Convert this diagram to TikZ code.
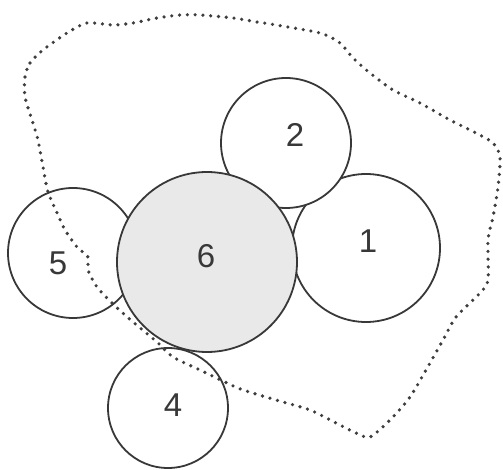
\documentclass[tikz,border=0pt]{standalone}
\usepackage{fontspec}
\setmainfont{Liberation Sans}
\definecolor{edge}{HTML}{383838}
\definecolor{dotc}{HTML}{3E3E3E}
\definecolor{fillg}{HTML}{E9E9E9}
\begin{document}
\begin{tikzpicture}[x=1pt,y=-1pt,
  disc/.style={circle,draw=edge,line width=1.8pt,fill=white,inner sep=0pt},
  lbl/.style={font=\fontsize{33}{33}\selectfont,text=edge,inner sep=0pt},
  boundary/.style={dotc,line width=3.6pt,line cap=round,dash pattern=on 0pt off 7.8pt}]
\useasboundingbox (0,0) rectangle (503,470);
\node[disc,minimum size=148pt] (c1) at (366,248) {};
\node[disc,minimum size=130pt] (c2) at (286,143) {};
\node[disc,minimum size=130pt] (c5) at (73,253) {};
\node[disc,minimum size=120pt] (c4) at (168,408) {};
\node[disc,fill=fillg,minimum size=180pt] (c6) at (207,262) {};
\node[lbl] (l1) at (368,241) {1};
\node[lbl] (l2) at (295,135) {2};
\node[lbl] (l4) at (173,405) {4};
\node[lbl] (l5) at (58,263) {5};
\node[lbl] (l6) at (206,256) {6};
\draw[boundary] plot[smooth cycle,tension=0.45] coordinates {
(25,77) (30,63) (43,50) (67,33) (87,23) (113,25) (133,23) (157,18) (180,15)
(200,15) (233,18) (257,22) (276,25) (320,33) (340,43) (353,58) (370,73)
(393,90) (420,103) (450,120) (476,133) (493,143) (500,157) (498,187)
(493,217) (488,240) (488,280) (480,293) (456,317) (443,340) (430,363)
(410,397) (390,420) (370,437) (356,433) (336,423) (310,410) (276,400)
(243,390) (227,383) (200,370) (173,357) (157,342) (133,322) (113,304)
(97,287) (88,270) (88,257) (77,247) (65,230) (58,215) (48,192) (43,167)
(38,140) (32,120) (25,97)};
\end{tikzpicture}
\end{document}
